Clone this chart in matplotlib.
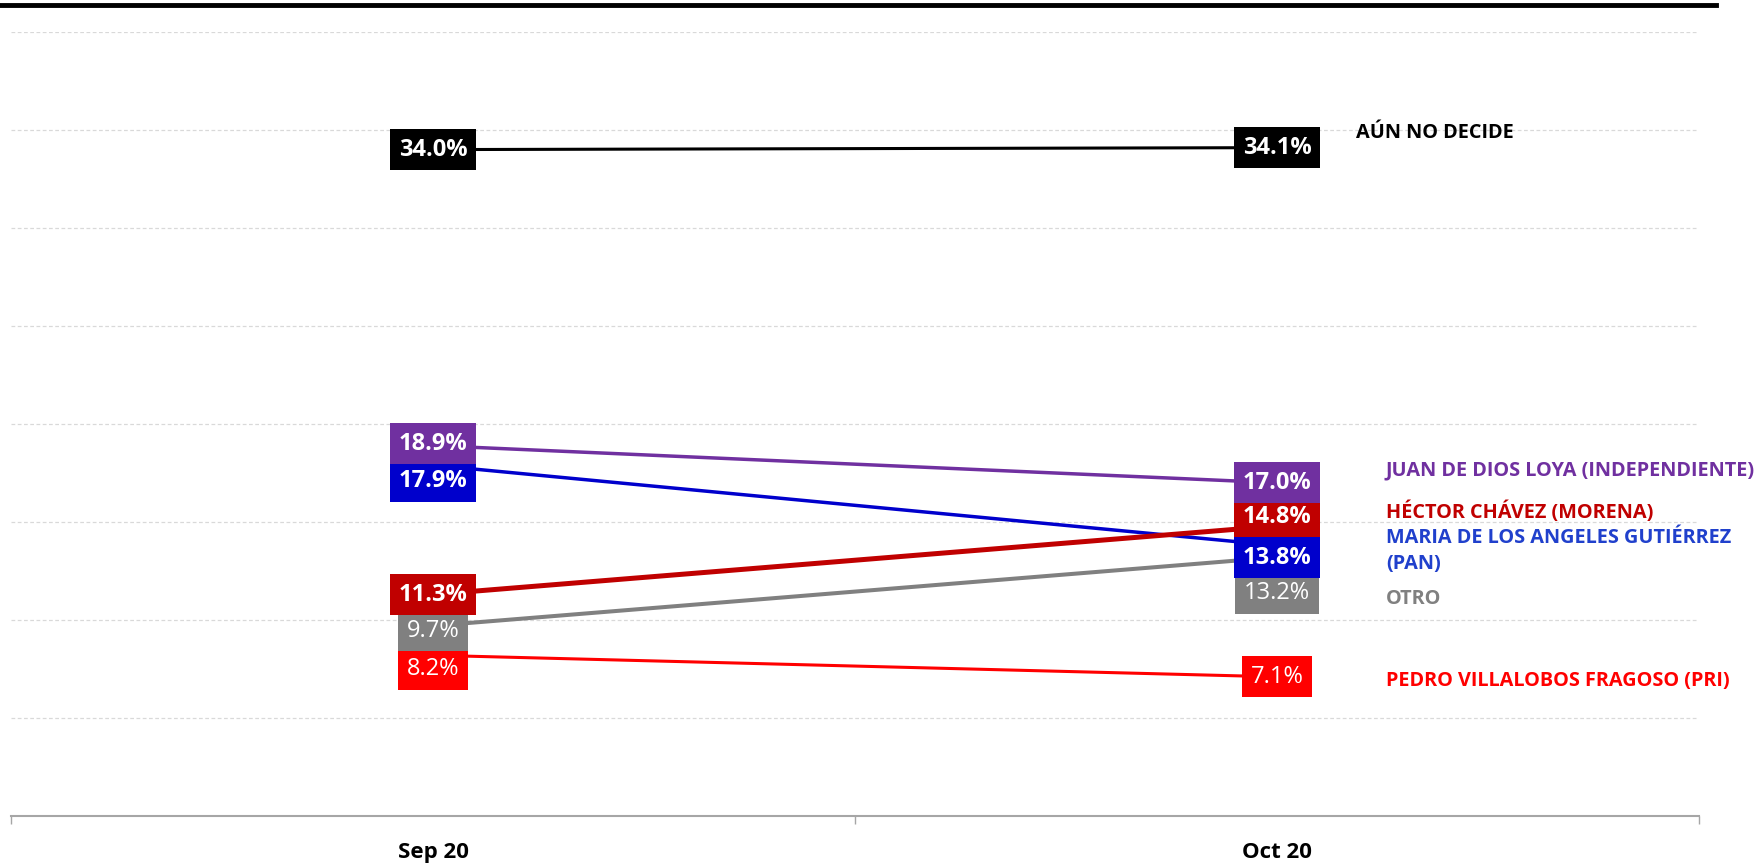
import matplotlib.pyplot as plt
from matplotlib.lines import Line2D

plt.rcParams['font.family'] = ['Open Sans', 'DejaVu Sans']

periods = ['Sep 20', 'Oct 20']
names = ['AÚN NO DECIDE', 'JUAN DE DIOS LOYA (INDEPENDIENTE)', 'MARIA DE LOS ANGELES GUTIÉRREZ\n(PAN)',
         'HÉCTOR CHÁVEZ (MORENA)', 'OTRO', 'PEDRO VILLALOBOS FRAGOSO (PRI)']
sep_vals = [34.0, 18.9, 17.9, 11.3, 9.7, 8.2]
oct_vals = [34.1, 17.0, 13.8, 14.8, 13.2, 7.1]

line_colors = ['#000000', '#7030A0', '#0000CC', '#C00000', '#808080', '#FF0000']
name_colors = ['#000000', '#7030A0', '#2040CC', '#C00000', '#808080', '#FF0000']
line_widths = [2.2, 2.5, 2.5, 3.6, 2.9, 2.2]
label_bold = [True, True, True, True, False, False]
zorders = [8, 7, 5, 6, 4, 3]

# label box shifts in pixels (positive = down), to keep boxes apart
sep_shift = [0, -2, 16, 0, 5, 14]
oct_shift = [0, 0, 12, -9, 36, 0]
# name label shifts (x px, y px) from the Oct point
name_shift = [(79, -15), (109, -12), (109, 5), (109, -14), (109, 42), (109, 4)]

px = 72 / 100

fig = plt.figure(figsize=(17.64, 8.66), dpi=100)
ax = fig.add_axes([11 / 1764, 50 / 866, 1688 / 1764, 784 / 866])

x = [0, 1]
for i in range(len(names)):
    ax.plot(x, [sep_vals[i], oct_vals[i]], color=line_colors[i], lw=line_widths[i],
            zorder=zorders[i], solid_capstyle='butt')

for i in range(len(names)):
    for xi, vals, shift in [(0, sep_vals, sep_shift), (1, oct_vals, oct_shift)]:
        ax.annotate(f'{vals[i]:.1f}%', xy=(xi, vals[i]), xytext=(0, -shift[i] * px),
                    textcoords='offset points', ha='center', va='center',
                    fontsize=17, color='white',
                    fontweight='bold' if label_bold[i] else 'normal',
                    bbox=dict(boxstyle='square,pad=0.36', fc=line_colors[i], ec='none'),
                    zorder=20 + zorders[i], annotation_clip=False)
    dx, dy = name_shift[i]
    ax.annotate(names[i], xy=(1, oct_vals[i]), xytext=(dx * px, -dy * px),
                textcoords='offset points', ha='left', va='center', fontsize=14.3,
                fontweight='bold', color=name_colors[i], linespacing=1.4,
                annotation_clip=False, zorder=30)

ax.set_xlim(-0.5, 1.5)
ax.set_ylim(0, 40)
ax.set_yticks(range(5, 41, 5))
ax.yaxis.grid(True, color='#D9D9D9', linestyle=(0, (3, 2)), lw=0.9)
ax.set_axisbelow(True)
ax.tick_params(axis='y', left=False, labelleft=False)

ax.set_xticks(x)
ax.set_xticklabels(periods, fontsize=16, fontweight='bold')
ax.set_xticks([-0.5, 0.5, 1.5], minor=True)
ax.tick_params(axis='x', which='major', length=0, pad=19)
ax.tick_params(axis='x', which='minor', length=6, color='#A6A6A6', width=1, direction='out')

for s in ['top', 'right', 'left']:
    ax.spines[s].set_visible(False)
ax.spines['bottom'].set_color('#A6A6A6')
ax.spines['bottom'].set_linewidth(1.5)

# thick rule at the top of the slide
fig.add_artist(Line2D([0, 1716 / 1764], [1 - 5 / 866, 1 - 5 / 866], color='black', lw=3.5,
                      transform=fig.transFigure))

fig.savefig('out.png', dpi=100)
